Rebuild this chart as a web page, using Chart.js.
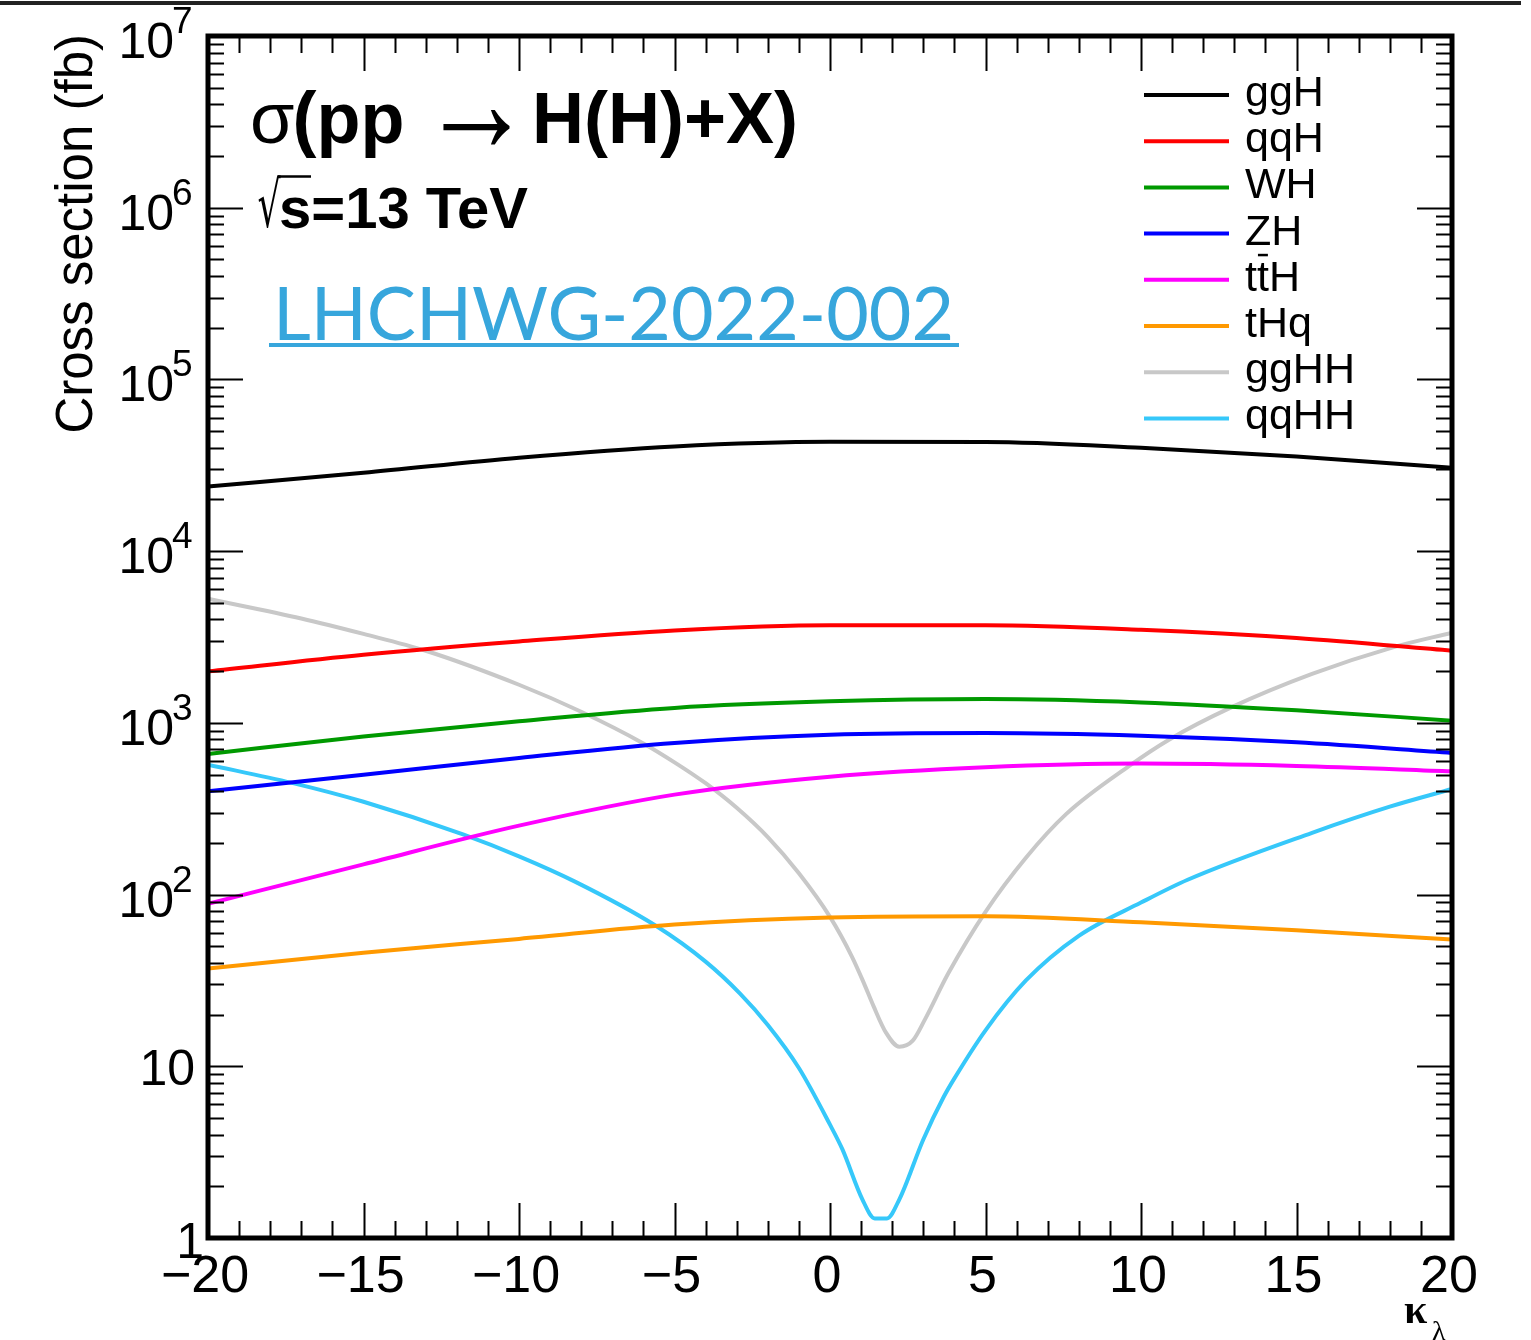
<!DOCTYPE html>
<html lang="en">
<head>
<meta charset="UTF-8">
<title>Cross section vs kappa_lambda</title>
<script src="https://cdn.jsdelivr.net/npm/chart.js"></script>
<style>
  html, body { margin: 0; padding: 0; background: #fff; }
</style>
</head>
<body>
<canvas id="xsChart" width="1531" height="1340"></canvas>

<script>
// kappa_lambda values where the single-Higgs curves were read
const kSingle = [-20, -15, -10, -5, 0, 5, 10, 15, 20];
const ggH = [23800, 28600, 35000, 40700, 43300, 43200, 40000, 35600, 30600];
const qqH = [1995, 2495, 2980, 3455, 3700, 3700, 3485, 3120, 2630];
const WH  = [659, 834, 1021, 1222, 1334, 1377, 1316, 1183, 1030];
const ZH  = [399, 499, 625, 764, 853, 873, 842, 770, 668];
const ttH = [88.3, 150, 252, 382, 486, 552, 579, 561, 522];
const tHq = [37.1, 45.8, 55.2, 66.9, 73.5, 74.8, 69.0, 62.0, 54.7];

// di-Higgs curves (denser around the dip)
const kGgHH = [-20, -17, -15, -13, -10, -8, -6, -5, -4, -3, -2, -1, 0, 0.7, 1.1, 1.4, 1.8, 2.23, 2.66, 3.05, 3.8, 5, 6.3, 7.6, 9.6, 10.9, 12.9, 15.5, 18.1, 20];
const ggHH  = [5280, 4055, 3296, 2630, 1667, 1161, 759, 589, 445, 320, 216, 133, 74.1, 43.7, 30.2, 22.4, 15.7, 13.0, 14.1, 18.7, 34.7, 79.4, 164, 295, 558, 798, 1230, 1928, 2754, 3350];
const kQqHH = [-20, -17.3, -15, -11.8, -10, -8.2, -5.6, -4, -2.9, -2, -1, 0, 0.4, 1.04, 1.44, 1.83, 2.23, 3, 3.65, 4, 5, 6.3, 8, 10, 11.5, 15.5, 18, 20];
const qqHH  = [571, 447, 347, 224, 167, 119, 65.8, 40.7, 26.6, 17.4, 9.77, 4.57, 3.28, 1.68, 1.30, 1.30, 1.68, 3.75, 6.6, 8.5, 16.2, 31.6, 57.5, 89.8, 122, 229, 325, 412];

// axis ticks and labels
const xMajorTicks = [-20, -15, -10, -5, 0, 5, 10, 15, 20];
const xTickLabels = ['\u221220', '\u221215', '\u221210', '\u22125', '0', '5', '10', '15', '20'];
const yDecades = [1, 10, 100, 1e3, 1e4, 1e5, 1e6, 1e7];
const yLabelBase = ['1', '10', '10', '10', '10', '10', '10', '10'];
const yLabelExp = ['', '', '2', '3', '4', '5', '6', '7'];

const FONT = "'Liberation Sans', Arial, Helvetica, sans-serif";

function series(label, xs, ys, color) {
    return {
        label: label,
        data: xs.map((k, i) => ({ x: k, y: ys[i] })),
        borderColor: color,
        backgroundColor: color,
        borderWidth: 4,
        pointRadius: 0,
        fill: false,
        cubicInterpolationMode: 'monotone'
    };
}

// text squeezed/stretched to a given advance width
function fitText(ctx, s, x, y, width, font, color) {
    ctx.save();
    ctx.font = font;
    ctx.fillStyle = color || '#000';
    ctx.textAlign = 'left';
    ctx.textBaseline = 'alphabetic';
    const w = ctx.measureText(s).width;
    ctx.translate(x, y);
    ctx.scale(width / w, 1);
    ctx.fillText(s, 0, 0);
    ctx.restore();
}

// glyph ink stretched into a box
function boxText(ctx, s, x0, y0, x1, y1, font) {
    ctx.save();
    ctx.font = font;
    ctx.fillStyle = '#000';
    ctx.textAlign = 'left';
    ctx.textBaseline = 'alphabetic';
    const m = ctx.measureText(s);
    const w = m.actualBoundingBoxLeft + m.actualBoundingBoxRight;
    const h = m.actualBoundingBoxAscent + m.actualBoundingBoxDescent;
    ctx.translate(x0, y0);
    ctx.scale((x1 - x0) / w, (y1 - y0) / h);
    ctx.fillText(s, m.actualBoundingBoxLeft, m.actualBoundingBoxAscent);
    ctx.restore();
}

function text(ctx, s, x, y, font, align) {
    ctx.font = font;
    ctx.textAlign = align || 'left';
    ctx.textBaseline = 'alphabetic';
    ctx.fillStyle = '#000';
    ctx.fillText(s, x, y);
}

const rootStyle = {
    id: 'rootStyle',
    beforeDraw(chart) {
        const ctx = chart.ctx;
        ctx.save();
        ctx.fillStyle = '#fff';
        ctx.fillRect(0, 0, chart.width, chart.height);
        // ragged border at the very top of the screenshot
        ctx.strokeStyle = '#222';
        ctx.lineWidth = 4;
        ctx.beginPath();
        ctx.moveTo(0, 3);
        ctx.lineTo(chart.width - 10, 3);
        ctx.stroke();
        ctx.restore();
    },
    afterDraw(chart) {
        const ctx = chart.ctx;
        const a = chart.chartArea;
        const xs = chart.scales.x, ys = chart.scales.y;
        ctx.save();

        // ticks on all four sides, pointing inwards
        ctx.strokeStyle = '#000';
        ctx.lineWidth = 2;
        ctx.beginPath();
        for (let v = xs.min; v <= xs.max; v += 1) {
            const px = Math.round(xs.getPixelForValue(v)) + 0.5;
            const len = xMajorTicks.includes(v) ? 35 : 17;
            ctx.moveTo(px, a.bottom); ctx.lineTo(px, a.bottom - len);
            ctx.moveTo(px, a.top); ctx.lineTo(px, a.top + len);
        }
        yDecades.forEach((d, i) => {
            for (let m = 1; m <= 9; m++) {
                if (i === yDecades.length - 1 && m > 1) break;
                const py = Math.round(ys.getPixelForValue(d * m)) + 0.5;
                const len = m === 1 ? 35 : 16;
                ctx.moveTo(a.left, py); ctx.lineTo(a.left + len, py);
                ctx.moveTo(a.right, py); ctx.lineTo(a.right - len, py);
            }
        });
        ctx.stroke();

        // frame
        ctx.lineWidth = 5;
        ctx.strokeRect(a.left, a.top, a.right - a.left, a.bottom - a.top);

        // x tick labels
        xMajorTicks.forEach((v, i) => {
            text(ctx, xTickLabels[i], xs.getPixelForValue(v) - 3, a.bottom + 54, '52px ' + FONT, 'center');
        });

        // y tick labels
        yDecades.forEach((d, i) => {
            const py = ys.getPixelForValue(d);
            if (yLabelExp[i]) {
                text(ctx, yLabelBase[i], 174, py + 22, '50px ' + FONT, 'right');
                text(ctx, yLabelExp[i], 172, py - 3, '37px ' + FONT, 'left');
            } else if (yLabelBase[i] === '10') {
                text(ctx, '10', 195, py + 19, '50px ' + FONT, 'right');
            } else {
                text(ctx, '1', 204, py + 20, '50px ' + FONT, 'right');
            }
        });

        // axis titles
        ctx.save();
        ctx.translate(92, 34);
        ctx.rotate(-Math.PI / 2);
        text(ctx, 'Cross section (fb)', 0, 0, '51px ' + FONT, 'right');
        ctx.restore();
        text(ctx, '\u03ba', 1404, 1323, "bold 42px 'Liberation Serif', serif", 'left');
        text(ctx, '\u03bb', 1432, 1340, "28px 'Liberation Serif', serif", 'left');

        // header texts
        ctx.font = '72px ' + FONT;
        text(ctx, '\u03c3', 250, 143, '72px ' + FONT, 'left');
        const sw = ctx.measureText('\u03c3').width;
        text(ctx, '(pp', 248 + sw, 143, 'bold 72px ' + FONT, 'left');
        boxText(ctx, '\u2192', 443, 109, 510, 146, "80px " + FONT);
        text(ctx, 'H(H)+X)', 532, 143, 'bold 72px ' + FONT, 'left');

        boxText(ctx, '\u221a', 258, 175, 281, 229, "60px 'DejaVu Sans', sans-serif");
        ctx.lineWidth = 2.5;
        ctx.beginPath();
        ctx.moveTo(278, 176.5); ctx.lineTo(311, 176.5);
        ctx.stroke();
        text(ctx, 's=13 TeV', 279, 228, 'bold 58px ' + FONT, 'left');

        fitText(ctx, 'LHCHWG-2022-002', 273, 340, 681, "74px Lato, 'Open Sans', sans-serif", '#37a6dc');
        ctx.fillStyle = '#37a6dc';
        ctx.fillRect(269, 343, 690, 4);

        // legend
        chart.data.datasets.forEach((ds, i) => {
            const ly = 95 + i * 46.2;
            ctx.strokeStyle = ds.borderColor;
            ctx.lineWidth = 4;
            ctx.beginPath();
            ctx.moveTo(1144, ly); ctx.lineTo(1229, ly);
            ctx.stroke();
            const plain = ds.label.replace('\u0304', '');
            text(ctx, plain, 1245, ly + 11, '43px ' + FONT, 'left');
            if (plain !== ds.label) {
                ctx.font = '43px ' + FONT;
                const t1 = ctx.measureText('t').width;
                ctx.fillStyle = '#000';
                ctx.fillRect(1245 + t1 + 1, ly - 26, t1 - 2, 2.5);
            }
        });

        ctx.restore();
    }
};

new Chart(document.getElementById('xsChart'), {
    type: 'line',
    data: {
        datasets: [
            series('ggH', kSingle, ggH, '#000000'),
            series('qqH', kSingle, qqH, '#ff0000'),
            series('WH', kSingle, WH, '#009900'),
            series('ZH', kSingle, ZH, '#0000ff'),
            series('tt\u0304H', kSingle, ttH, '#ff00ff'),
            series('tHq', kSingle, tHq, '#ff9900'),
            series('ggHH', kGgHH, ggHH, '#c8c8c8'),
            series('qqHH', kQqHH, qqHH, '#36c8fa')
        ]
    },
    options: {
        responsive: false,
        animation: false,
        devicePixelRatio: 1,
        layout: { padding: { left: 208, right: 79, top: 36, bottom: 102 } },
        scales: {
            x: { type: 'linear', min: -20, max: 20, display: false },
            y: { type: 'logarithmic', min: 1, max: 1e7, display: false }
        },
        plugins: {
            legend: { display: false },
            tooltip: { enabled: false }
        }
    },
    plugins: [rootStyle]
});
</script>
</body>
</html>
